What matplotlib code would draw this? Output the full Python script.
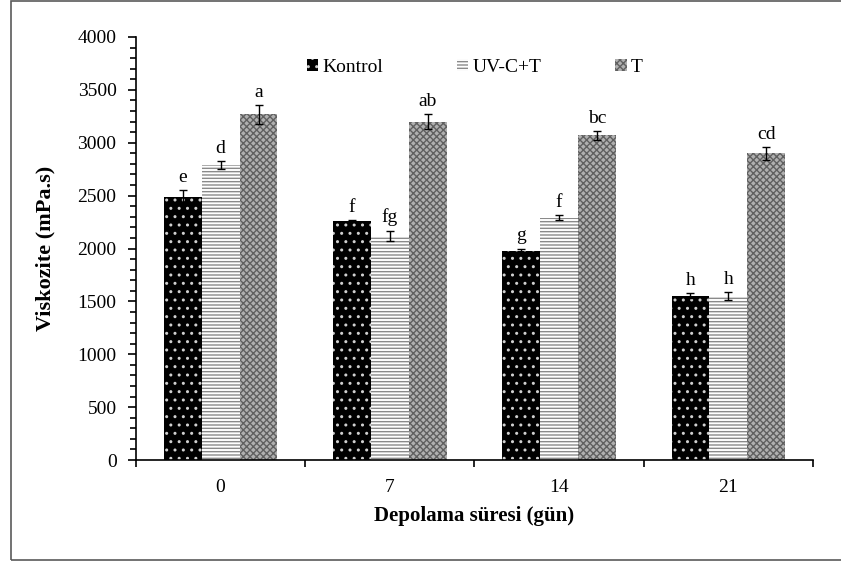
import numpy as np
import matplotlib
matplotlib.use('Agg')
import matplotlib.pyplot as plt
from matplotlib.patches import Rectangle

plt.rcParams['font.family'] = ['Liberation Serif', 'DejaVu Serif']
plt.rcParams['hatch.linewidth'] = 1.0

days = ['0', '7', '14', '21']
series = ['Kontrol', 'UV-C+T', 'T']

kontrol = [2490, 2260, 1975, 1555]
uvct = [2790, 2120, 2290, 1550]
t_only = [3270, 3200, 3070, 2900]

kontrol_err = [60, 10, 25, 25]
uvct_err = [40, 50, 25, 35]
t_err = [90, 70, 40, 60]

kontrol_lbl = ['e', 'f', 'g', 'h']
uvct_lbl = ['d', 'fg', 'f', 'h']
t_lbl = ['a', 'ab', 'bc', 'cd']

fig = plt.figure(figsize=(8.41, 5.63), dpi=100, facecolor='white')
ax = fig.add_axes([0.1617, 0.1829, 0.805, 0.7514])

# outer frame around the chart area
fig.patches.append(Rectangle((11 / 841, 3 / 563), 1.2, 559 / 563,
                             transform=fig.transFigure, fill=False,
                             edgecolor='#5a5a5a', linewidth=1.2))

x = np.arange(len(days))
w = 0.224

styles = [
    dict(facecolor='black', edgecolor='#d0d0d0', hatch='..'),
    dict(facecolor='white', edgecolor='#8a8a8a', hatch='-----'),
    dict(facecolor='#b0b0b0', edgecolor='#606060', hatch='xxxxx'),
]
data = [(kontrol, kontrol_err, kontrol_lbl),
        (uvct, uvct_err, uvct_lbl),
        (t_only, t_err, t_lbl)]

handles = []
for i, ((vals, errs, lbls), st) in enumerate(zip(data, styles)):
    pos = x + (i - 1) * w
    b = ax.bar(pos, vals, w, linewidth=0, label=series[i], **st)
    handles.append(b)
    ax.errorbar(pos, vals, yerr=errs, fmt='none', ecolor='black',
                elinewidth=1.0, capsize=3, capthick=1.0)
    for p, v, e, s in zip(pos, vals, errs, lbls):
        ax.annotate(s, (p, v + e), xytext=(0, 3), textcoords='offset points',
                    ha='center', va='bottom', fontsize=14)

ax.set_xlim(-0.5, 3.5)
ax.set_ylim(0, 4000)
ax.set_xticks(x)
ax.set_xticklabels(days)
ax.set_xticks(np.arange(-0.5, 4, 1), minor=True)
ax.tick_params(axis='x', which='major', length=0, labelsize=14, pad=14)
ax.tick_params(axis='x', which='minor', length=5, width=1.2, direction='out')
ax.set_yticks(np.arange(0, 4001, 500))
ax.set_yticks(np.arange(0, 4001, 100), minor=True)
ax.tick_params(axis='y', which='major', length=6, width=1.2, labelsize=14, pad=8)
ax.tick_params(axis='y', which='minor', length=4, width=1.2)

for side in ['top', 'right']:
    ax.spines[side].set_visible(False)
for side in ['left', 'bottom']:
    ax.spines[side].set_linewidth(1.2)

ax.set_ylabel('Viskozite (mPa.s)', fontsize=16, fontweight='bold', labelpad=16)
ax.set_xlabel('Depolama süresi (gün)', fontsize=15, fontweight='bold', labelpad=7)

ax.legend(handles=handles, labels=series, loc='upper center', ncol=3,
          bbox_to_anchor=(0.50, 0.99), frameon=False, fontsize=14,
          handlelength=0.6, handleheight=0.6, handletextpad=0.2,
          columnspacing=3.8)

fig.savefig('out.png', dpi=100, facecolor='white')
